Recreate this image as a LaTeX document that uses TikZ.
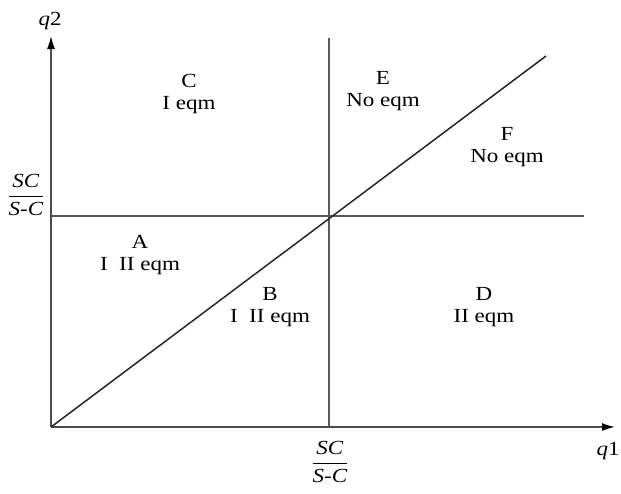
\documentclass[tikz,border=0pt]{standalone}
\usepackage{fontspec}
\setmainfont{Liberation Serif}
\usetikzlibrary{arrows.meta}
\newcommand{\wide}[1]{\scalebox{1.15}[1]{#1}}
\newcommand{\scfrac}{\wide{$\displaystyle\frac{\mbox{\textit{SC}}}{\mbox{\textit{S}-\textit{C}}}$}}
\begin{document}
\begin{tikzpicture}[x=1pt,y=-1pt,
  lbl/.style={font=\fontsize{20}{22}\selectfont, inner sep=0pt, align=center},
  axis/.style={draw=black!70, line width=1.5pt, -{Latex[length=13pt,width=8pt,color=black]}},
  ln/.style={draw=black!65, line width=1.5pt}]
\useasboundingbox (0,0) rectangle (621,493);
\coordinate (O) at (51,427);
\coordinate (Ytop) at (51,36);
\coordinate (Xend) at (615,427);
\coordinate (Hl) at (51,216);
\coordinate (Hr) at (584,216);
\coordinate (Vt) at (329,38);
\coordinate (Vb) at (329,427);
\coordinate (Dend) at (546,56);
\draw[axis] (O) -- (Ytop);
\draw[axis] (O) -- (Xend);
\draw[ln] (Hl) -- (Hr);
\draw[ln] (Vt) -- (Vb);
\draw[ln, draw=black!85] (O) -- (Dend);
\node[lbl] (q2) at (50,21) {\wide{\textit{q}2}};
\node[lbl] (q1) at (608,451) {\wide{\textit{q}1}};
\node[lbl] (yf) at (26,195) {\scfrac};
\node[lbl] (xf) at (330,462) {\scfrac};
\node[lbl] (C) at (189,94) {\wide{C}\\\wide{I eqm}};
\node[lbl] (E) at (383,91) {\wide{E}\\\wide{No eqm}};
\node[lbl] (F) at (507,147) {\wide{F}\\\wide{No eqm}};
\node[lbl] (A) at (140,255) {\wide{A}\\\wide{I\enspace II eqm}};
\node[lbl] (B) at (270,307) {\wide{B}\\\wide{I\enspace II eqm}};
\node[lbl] (D) at (484,307) {\wide{D}\\\wide{II eqm}};
\end{tikzpicture}
\end{document}
